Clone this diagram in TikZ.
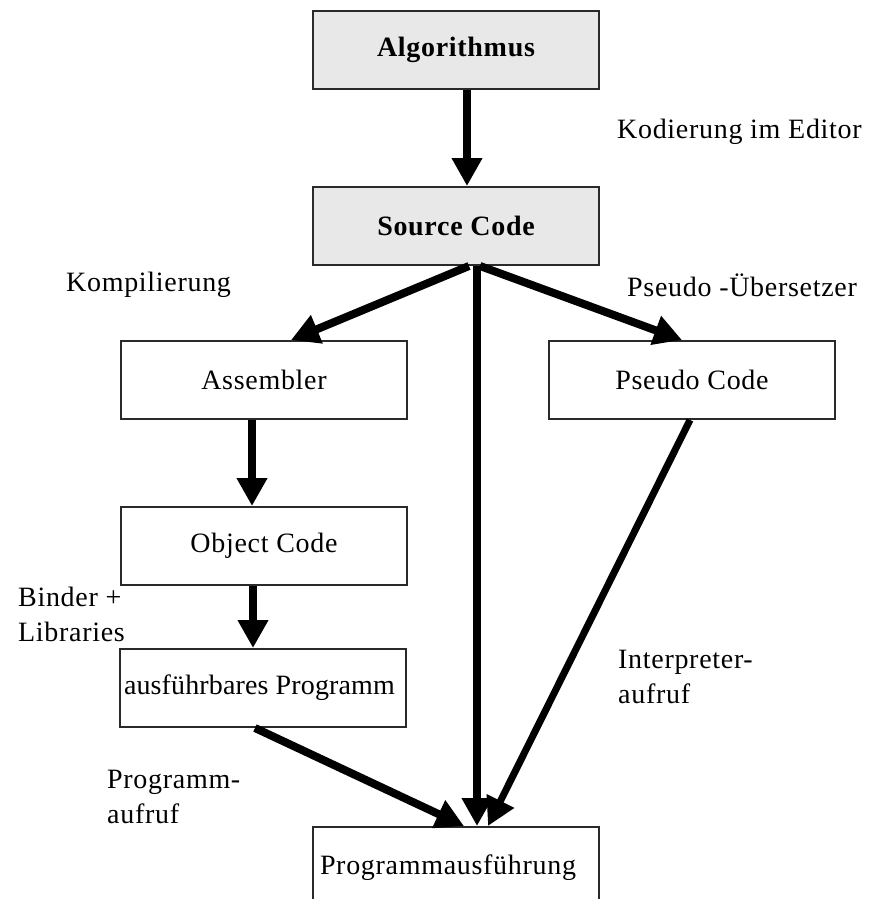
\documentclass[tikz,border=0pt]{standalone}
\usepackage{fontspec}
\setmainfont[LetterSpace=2.5]{Liberation Serif}
\usetikzlibrary{arrows.meta}
\definecolor{boxgray}{HTML}{E8E8E8}
\definecolor{edge}{HTML}{2A2A2A}
\tikzset{
  box/.style={draw=edge, line width=2pt, fill=white, minimum width=286pt,
    minimum height=78pt, inner sep=0pt, anchor=north west,
    font=\fontsize{28}{34}\selectfont},
  graybox/.style={box, fill=boxgray, font=\fontsize{28}{34}\selectfont\bfseries},
  lbl/.style={anchor=west, inner sep=0pt, align=left,
    font=\fontsize{28}{35}\selectfont},
  arr/.style={line width=8pt, -{Triangle[length=28pt,width=29pt]}}
}
\begin{document}
\begin{tikzpicture}[x=1pt,y=-1pt]
\clip (0,0) rectangle (886,899);
\fill[white] (0,0) rectangle (886,899);

% boxes
\node[graybox] (alg) at (312,10) {Algorithmus};
\node[graybox] (src) at (312,186) {Source Code};
\node[box] (asm) at (120,340) {Assembler};
\node[box] (pseudo) at (548,340) {Pseudo Code};
\node[box] (obj) at (120,506) {Object Code};
\node[box] (exe) at (119,648)
  {\makebox[278pt][l]{\addfontfeatures{LetterSpace=0.5}ausführbares Programm}};
\node[box, minimum height=82pt] (run) at (312,826) {\makebox[272pt][l]{Programmausführung}};

% labels
\node[lbl] (lcode) at (617,132) {Kodierung im Editor};
\node[lbl] (lcomp) at (66,285) {Kompilierung};
\node[lbl] (lpseudo) at (627,285) {Pseudo -Übersetzer};
\node[lbl] (lbind) at (18,614) {Binder +\\Libraries};
\node[lbl] (linter) at (618,677) {Interpreter-\\aufruf};
\node[lbl] (lprog) at (107,797) {Programm-\\aufruf};

% connectors
\draw[arr] (alg.south -| 467,0) -- (src.north -| 467,0);
\draw[arr] (src.south -| 469,0) -- (asm.north -| 291,0);
\draw[arr] (src.south -| 480,0) -- (pseudo.north -| 682,0);
\draw[arr] (src.south -| 477,0) -- (run.north -| 477,0);
\draw[arr] (asm.south -| 252,0) -- (obj.north -| 252,0);
\draw[arr] (obj.south -| 253,0) -- (exe.north -| 253,0);
\draw[arr] (exe.south -| 255,0) -- (run.north -| 464,0);
\draw[arr, line width=7pt] (pseudo.south -| 690,0) -- (run.north -| 488,0);
\end{tikzpicture}
\end{document}
